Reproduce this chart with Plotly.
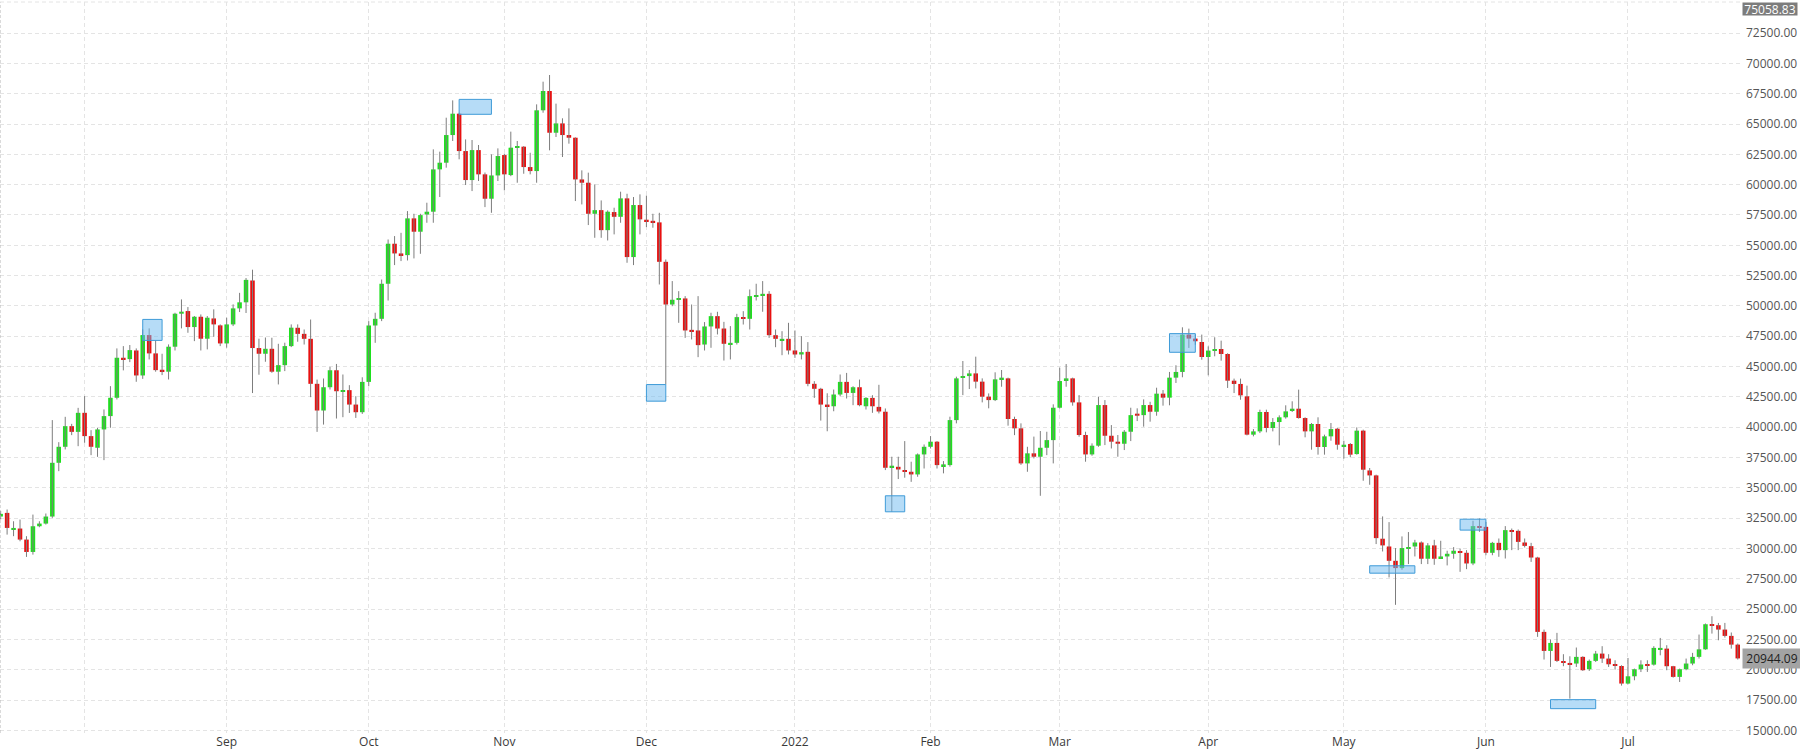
import numpy as np
import pandas as pd
import plotly.graph_objects as go

# daily bars, weekdays only (weekends are skipped on the x axis)
START_DATE = "2021-07-14"
END_DATE = "2022-07-26"

opens = [
    # Jul 2021
    32640, 32940, 31540, 31650, 30740, 29720, 31840, 32060, 32640, 37070, 38390, 40090, 39620,
    # Aug
    41190, 39270, 38310, 39820, 40920, 42430, 45730, 45620, 46330, 44270, 47600, 46090, 44740,
    44580, 46640, 49360, 49580, 48260, 49110, 47300, 48970, 48400,
    # Sep
    46910, 48480, 49800, 50300, 52100, 46530, 46060, 46470, 44580, 45120, 46690, 48200,
    47700, 47290, 43580, 41380, 43300, 44700, 42920, 43060, 41870, 41240,
    # Oct
    43740, 48390, 48940, 51830, 55130, 54330, 54190, 57220, 56120, 57540, 57770, 61260, 61810,
    64090, 65850, 62770, 60380, 62850, 60850, 58840, 60760,
    # Nov
    62440, 60790, 63050, 63130, 61450, 61120, 66130, 67720, 64280, 65050, 64090, 63870, 60430,
    60160, 57600, 57900, 56250, 57740, 57350, 58870, 54030, 58320,
    # Dec
    57110, 57020, 56890, 53640, 50120, 50510, 50620, 48030, 47980, 46820, 48310, 49160,
    48140, 46820, 46960, 49080, 48940, 50780, 50860, 51000, 47590, 47150, 47290,
    # Jan 2022
    46330, 46000, 46220, 43580, 43170, 41870, 41730, 42700, 43740, 42830, 43300, 41730, 42420,
    41680, 41280, 36720, 36740, 36470, 36330, 36110, 37760,
    # Feb
    38390, 38810, 36800, 36880, 40590, 44090, 44220, 44440, 43760, 42520, 42240, 43950, 44030,
    40680, 39910, 37020, 37850, 37570, 38310, 38940,
    # Mar
    41610, 43890, 44030, 42050, 39360, 37760, 38480, 41830, 39300, 38810, 38640, 39630, 41120,
    41000, 41830, 41280, 42770, 42440, 44090, 44560, 47640, 47310, 47030,
    # Apr
    45790, 46340, 46450, 46040, 43840, 43570, 42550, 39390, 39660, 41260, 39940, 40430, 40820,
    41370, 41530, 40760, 39660, 40270, 38370, 39250, 39880,
    # May
    38450, 38620, 37790, 39720, 36440, 36030, 30810, 30170, 28990, 28390, 30010, 30170, 30500,
    29160, 30260, 29210, 29350, 29570, 29790, 29650, 28770, 31850,
    # Jun
    31790, 29650, 30470, 29870, 31520, 31460, 30500, 30200, 29260, 23130, 21560, 22220, 20710,
    20570, 20520, 21070, 20050, 20740, 21340, 20930, 20430, 20320,
    # Jul
    18870, 19470, 20050, 20440, 20430, 21670, 21750, 20300, 19420, 20050, 20520, 21070, 21690,
    23760, 23680, 23320, 22800, 22080,
]

highs = [
    33100, 33220, 32250, 32390, 31020, 32800, 32250, 32890, 40590, 38770, 40860, 40280, 41600,
    42570, 39760, 39960, 41470, 43390, 46500, 46690, 46780, 46500, 48070, 48150, 47160, 46060,
    46830, 49440, 50540, 49910, 49170, 49300, 49170, 49720, 48480,
    49030, 50130, 51080, 52300, 52990, 47300, 47400, 47380, 46880, 46970, 48480, 48480,
    48060, 48880, 43930, 44020, 44980, 45220, 44350, 43470, 42560, 44120,
    48750, 49440, 52180, 55480, 55760, 56030, 57820, 57600, 57600, 58510, 62910, 62720, 65520,
    66950, 65930, 63730, 63680, 63270, 61000, 62500, 62990,
    62550, 64370, 63600, 63180, 62630, 66620, 68490, 69040, 66680, 65470, 66290, 63900, 61180,
    60990, 60020, 58700, 57880, 58100, 59420, 59250, 58980, 59200,
    59100, 57600, 57680, 53830, 52050, 51220, 50810, 50120, 50810, 48670, 49440, 49520,
    48690, 48340, 49350, 49570, 51360, 51830, 52050, 51220, 48060, 47920, 48610,
    47980, 47510, 47020, 43800, 43250, 42800, 43110, 44350, 44480, 43380, 43930, 42480, 42640,
    43500, 41550, 37570, 37570, 38860, 37160, 37840, 38580,
    39270, 38860, 37210, 40870, 44170, 45460, 44720, 45820, 44030, 42790, 44530, 44720, 44090,
    40870, 40320, 38390, 39230, 39690, 39630, 41890,
    44910, 45210, 44090, 42650, 39630, 38670, 42520, 42240, 40180, 39360, 39770, 41610, 41560,
    42300, 42100, 43260, 43070, 44560, 45110, 48240, 48130, 47640, 47640,
    46670, 47420, 47140, 46100, 44010, 44010, 43430, 39850, 41450, 41450, 40760, 40980, 41810,
    42140, 43100, 40820, 40350, 40820, 39390, 40350, 39940,
    38890, 38700, 39990, 39800, 36640, 36090, 32650, 32180, 30040, 31000, 31360, 30720, 30590,
    30450, 30720, 30640, 29820, 30120, 30000, 29870, 32290, 32480,
    32200, 30550, 30830, 31850, 31650, 31570, 30830, 30470, 29320, 23320, 22500, 23050, 21290,
    21120, 21840, 21120, 20850, 21560, 21950, 21290, 20790, 20380,
    20980, 20100, 20790, 20790, 21950, 22630, 22030, 20330, 20100, 20930, 21400, 22910, 23820,
    24420, 23870, 23870, 23080, 22170,
]

lows = [
    32400, 31150, 31020, 30600, 29310, 29500, 31760, 31980, 32530, 36380, 38170, 39350, 38440,
    38720, 37700, 37560, 37290, 39960, 42290, 44690, 45370, 43750, 43990, 45590, 44580, 44300,
    43940, 46330, 48150, 47790, 47100, 46330, 46420, 47460, 46690,
    46560, 48340, 49500, 49420, 42820, 44330, 45400, 44490, 43530, 44630, 46610, 47050,
    46820, 42480, 39620, 40220, 43110, 40720, 40830, 41180, 40770, 41100,
    43380, 46960, 48750, 50450, 53370, 53700, 53750, 53920, 54300, 56860, 56860, 58980, 61400,
    63600, 62090, 59970, 59470, 60300, 58150, 57680, 60300,
    59530, 60700, 60160, 60900, 60850, 60160, 65930, 62830, 63930, 62280, 63380, 58650, 58370,
    56670, 55620, 55620, 55400, 55900, 56860, 53560, 53370, 55900,
    56500, 56450, 51770, 43520, 49980, 48610, 47370, 47240, 45780, 46330, 46550, 47650,
    45500, 45590, 46820, 48470, 48060, 50450, 49520, 47370, 46600, 45940, 46000,
    45720, 45590, 43380, 42420, 40550, 39670, 41320, 42560, 42370, 41820, 41730, 41460, 41190,
    41140, 36470, 33030, 35730, 35840, 35500, 35920, 36600,
    38250, 36600, 36200, 36750, 40320, 42650, 43150, 43200, 42050, 41560, 42160, 43340, 40130,
    39350, 36900, 36330, 37430, 34350, 37700, 37020,
    41550, 43340, 41780, 39220, 37160, 37650, 38390, 38530, 38250, 37570, 38120, 38860, 40510,
    40050, 40460, 40950, 41780, 41810, 43650, 44120, 46540, 46800, 45570,
    44280, 45850, 45490, 43240, 42820, 42270, 39330, 39250, 39520, 39580, 39660, 38510, 40710,
    41260, 40710, 39170, 38150, 37740, 37740, 38890, 38150,
    37410, 37520, 37740, 35590, 35260, 30370, 29760, 27620, 25360, 28250, 28720, 29350, 28720,
    28720, 28660, 29160, 28610, 29160, 28080, 28300, 28630, 31380,
    29450, 29450, 29320, 29180, 29870, 29870, 30090, 28900, 22720, 20850, 20240, 20650, 20300,
    17630, 20240, 19910, 19910, 20650, 20570, 20240, 20020, 18700,
    18810, 19140, 19820, 19830, 20350, 21200, 19970, 19360, 19000, 19970, 20380, 20930, 21660,
    22990, 22440, 22660, 21750, 20850,
]

closes = [
    32860, 31700, 31700, 30740, 29720, 31840, 32060, 32640, 37070, 38390, 40090, 39620, 41190,
    39270, 38390, 39820, 40920, 42430, 45730, 45620, 46360, 44270, 47600, 46090, 44710, 44600,
    46640, 49360, 49530, 48260, 49110, 47300, 49030, 48480, 46910,
    48480, 49800, 50300, 52150, 46530, 46060, 46470, 44580, 45120, 46690, 48210, 47700,
    47290, 43580, 41380, 43300, 44700, 42970, 43060, 41870, 41240, 43740,
    48390, 48940, 51830, 55130, 54330, 54190, 57220, 56120, 57490, 57770, 61260, 61810, 64090,
    65850, 62770, 60380, 62850, 60850, 58840, 60760, 62360,
    60850, 63050, 63130, 61450, 61120, 66130, 67720, 64280, 65050, 64090, 63870, 60430, 60160,
    57600, 57900, 56250, 57770, 57350, 58870, 54030, 58320, 57140,
    56970, 56890, 53640, 50120, 50510, 50620, 47980, 47900, 46770, 48310, 49160, 48140,
    46880, 46960, 49080, 48940, 50810, 50890, 51000, 47590, 47290, 47290, 46330,
    46000, 46190, 43580, 43170, 41870, 41730, 42700, 43740, 42830, 43300, 41820, 42420, 41730,
    41300, 36660, 36830, 36520, 36330, 36110, 37760, 38390,
    38810, 36880, 36940, 40590, 44030, 44220, 44440, 43760, 42520, 42240, 43950, 44090, 40680,
    39910, 37020, 37850, 37570, 38310, 38940, 41610,
    43810, 44030, 42050, 39360, 37760, 38480, 41830, 39300, 38810, 38640, 39630, 41000, 40950,
    41830, 41280, 42770, 42440, 44090, 44560, 47640, 47310, 47090, 45790,
    46320, 46450, 46040, 43840, 43570, 42630, 39390, 39660, 41260, 39940, 40430, 40820, 41310,
    41530, 40760, 39660, 40270, 38370, 39250, 39850, 38560,
    38560, 37740, 39720, 36500, 36030, 30860, 30260, 28990, 28390, 30040, 30120, 30500, 29160,
    30260, 29160, 29350, 29570, 29820, 29650, 28770, 31850, 31740,
    29650, 30470, 29870, 31520, 31440, 30550, 30220, 29260, 23130, 21560, 22220, 20740, 20600,
    20460, 21070, 19970, 20740, 21340, 20930, 20460, 20320, 18870,
    19470, 20050, 20440, 20320, 21810, 21810, 20300, 19420, 20050, 20520, 21070, 21690, 23760,
    23620, 23320, 22800, 22080, 20944.09,
]

# month grid lines / labels (first trading day of each month)
TICK_MONTHS = ["2021-08", "2021-09", "2021-10", "2021-11", "2021-12", "2022-01",
               "2022-02", "2022-03", "2022-04", "2022-05", "2022-06", "2022-07"]
TICK_TEXT = ["", "Sep", "Oct", "Nov", "Dec", "2022", "Feb", "Mar", "Apr", "May", "Jun", "Jul"]

# highlighted zones (blue boxes)
BOX_START = ["2021-08-13", "2021-10-21", "2021-12-01", "2022-01-21",
             "2022-03-24", "2022-05-06", "2022-05-26", "2022-06-15"]
BOX_END = ["2021-08-18", "2021-10-28", "2021-12-06", "2022-01-26",
           "2022-03-30", "2022-05-17", "2022-06-01", "2022-06-24"]
BOX_LOW = [47160, 65800, 42150, 33030, 46180, 27970, 31520, 16800]
BOX_HIGH = [48890, 67030, 43520, 34350, 47720, 28580, 32420, 17545]

Y_TOP = 75058.83
Y_BOTTOM = 14794

UP = "#1ee01e"
DOWN = "#e81010"
WICK = "#7d7d7d"
GRID = "#e4e4e4"
FONT = "Open Sans"

dates = pd.bdate_range(START_DATE, END_DATE).strftime("%Y-%m-%d").tolist()
o = np.array(opens, dtype=float)
h = np.array(highs, dtype=float)
l = np.array(lows, dtype=float)
c = np.array(closes, dtype=float)
assert len(dates) == len(o) == len(h) == len(l) == len(c), (len(dates), len(o), len(h), len(l), len(c))

# wicks first, bodies drawn on top
wick_x, wick_y = [], []
for d, lo, hi in zip(dates, l, h):
    wick_x += [d, d, None]
    wick_y += [lo, hi, None]

body_base = np.minimum(o, c)
body_len = np.maximum(np.abs(c - o), 90)  # keep dojis visible
body_color = [UP if cc >= oo else DOWN for oo, cc in zip(o, c)]

fig = go.Figure()
fig.add_trace(
    go.Scatter(
        x=wick_x, y=wick_y, mode="lines",
        line=dict(color=WICK, width=1),
        hoverinfo="skip", showlegend=False,
    )
)
fig.add_trace(
    go.Bar(
        x=dates, y=body_len, base=body_base,
        width=0.7,
        marker=dict(color=body_color, line=dict(width=0)),
        customdata=np.stack([o, h, l, c], axis=1),
        hovertemplate="%{x}<br>O %{customdata[0]:.2f}<br>H %{customdata[1]:.2f}"
                      "<br>L %{customdata[2]:.2f}<br>C %{customdata[3]:.2f}<extra></extra>",
        showlegend=False,
    )
)

tickvals = [next(d for d in dates if d.startswith(m)) for m in TICK_MONTHS]

shapes = []
for x0, x1, y0, y1 in zip(BOX_START, BOX_END, BOX_LOW, BOX_HIGH):
    shapes.append(dict(
        type="rect", xref="x", yref="y", x0=x0, x1=x1, y0=y0, y1=y1,
        fillcolor="rgba(110,185,240,0.5)", line=dict(color="#3f9bd8", width=1),
        layer="above",
    ))
# dashed frame at left and top
shapes.append(dict(type="line", xref="paper", yref="paper", x0=0, x1=0, y0=0, y1=1,
                   line=dict(color="#b5b5b5", width=1, dash="3px,2px")))
shapes.append(dict(type="line", xref="paper", yref="paper", x0=0, x1=1, y0=1, y1=1,
                   line=dict(color=GRID, width=1, dash="4px,3px")))

annotations = [
    dict(x=1, xref="paper", xanchor="left", xshift=1, y=Y_TOP, yref="y", yanchor="top",
         text=f"{Y_TOP:.2f}", showarrow=False, bgcolor="#7c7c7c", borderpad=0,
         width=54, height=12, valign="middle",
         font=dict(family=FONT, size=12, color="white")),
    dict(x=1, xref="paper", xanchor="left", xshift=1, y=closes[-1], yref="y", yanchor="middle",
         text=f"{closes[-1]:.2f}", showarrow=False, bgcolor="#a3a3a3", borderpad=1,
         width=56, height=17, valign="middle",
         font=dict(family=FONT, size=12, color="#1e1e1e")),
]

fig.update_layout(
    width=1800, height=755,
    margin=dict(l=0, r=59, t=2, b=22),
    paper_bgcolor="white", plot_bgcolor="white",
    font=dict(family=FONT, size=12, color="#555555"),
    showlegend=False,
    shapes=shapes, annotations=annotations,
    hovermode="closest",
)
fig.update_xaxes(
    type="category", range=[-0.1, 269.5],
    tickvals=tickvals, ticktext=TICK_TEXT,
    showgrid=True, gridcolor=GRID, griddash="4px,3px", gridwidth=1,
    ticks="", showline=False, zeroline=False,
    tickfont=dict(family=FONT, size=12, color="#3a3a3a"),
    fixedrange=True,
)
fig.update_yaxes(
    side="right", range=[Y_BOTTOM, Y_TOP],
    tickvals=list(range(15000, 75000, 2500)), tickformat=".2f",
    showgrid=True, gridcolor=GRID, griddash="4px,3px", gridwidth=1,
    ticks="", showline=False, zeroline=False,
    tickfont=dict(family=FONT, size=12, color="#555555"),
    ticklabelstandoff=4,
)

fig.write_html(
    "out.html",
    config={"displayModeBar": False},
    post_script="document.body.style.margin='0';",
)
